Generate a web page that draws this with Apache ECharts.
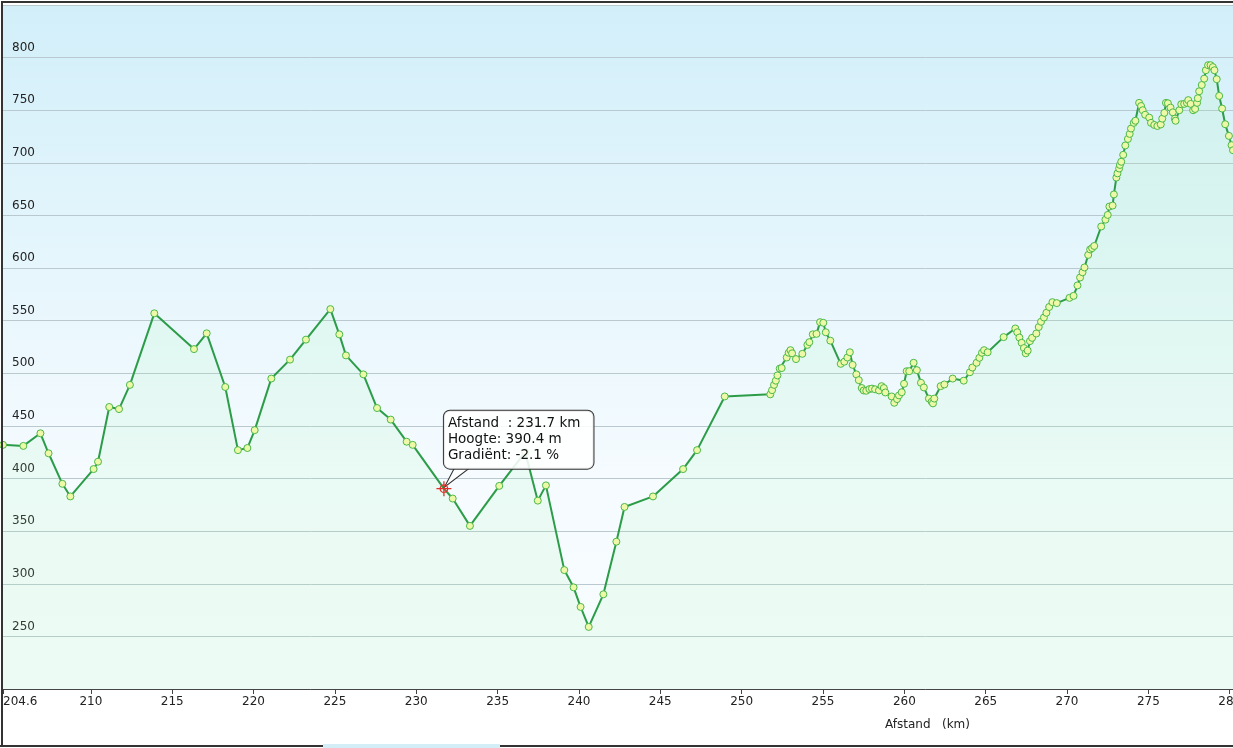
<!DOCTYPE html>
<html>
<head>
<meta charset="utf-8">
<script src="https://cdn.jsdelivr.net/npm/echarts@6/dist/echarts.min.js"></script>
<style>
  html, body { margin: 0; padding: 0; background: #fff; overflow: hidden; }
  #chart { width: 1233px; height: 748px; }
</style>
</head>
<body>
<div id="chart"></div>
<script>
// hoogteprofiel: afstand (km) en hoogte (m)
var afstand = [
  204.6, 205.85, 206.9, 207.4, 208.25, 208.74, 210.17, 210.44, 211.13, 211.73,
  212.4, 213.9, 216.34, 217.12, 218.26, 219.04, 219.62, 220.07, 221.09, 222.24,
  223.22, 224.72, 225.27, 225.68, 226.75, 227.59, 228.43, 229.41, 229.78, 231.7,
  232.24, 233.3, 235.1, 236.7, 237.47, 237.97, 239.1, 239.67, 240.1, 240.6,
  241.5, 242.3, 242.8, 244.55, 246.4, 247.26, 248.96, 251.76, 251.87, 251.99,
  252.1, 252.2, 252.34, 252.46, 252.77, 252.89, 253.0, 253.1, 253.34, 253.73,
  254.04, 254.16, 254.37, 254.6, 254.82, 255.02, 255.17, 255.45, 256.09, 256.31,
  256.5, 256.65, 256.82, 257.05, 257.2, 257.38, 257.5, 257.66, 257.85, 258.01,
  258.2, 258.44, 258.6, 258.74, 258.83, 259.22, 259.38, 259.55, 259.67, 259.84,
  259.98, 260.14, 260.3, 260.57, 260.77, 261.02, 261.2, 261.51, 261.68, 261.76,
  261.84, 262.23, 262.46, 262.97, 263.65, 264.03, 264.18, 264.44, 264.61, 264.77,
  264.9, 265.12, 266.1, 266.82, 266.94, 267.07, 267.21, 267.35, 267.46, 267.58,
  267.72, 267.85, 268.11, 268.26, 268.4, 268.58, 268.73, 268.9, 269.1, 269.37,
  270.15, 270.4, 270.64, 270.8, 270.95, 271.07, 271.3, 271.42, 271.54, 271.67,
  272.1, 272.36, 272.5, 272.6, 272.8, 272.88, 273.03, 273.1, 273.2, 273.25,
  273.33, 273.45, 273.58, 273.74, 273.85, 273.93, 274.1, 274.2, 274.43, 274.55,
  274.65, 274.8, 275.05, 275.16, 275.36, 275.55, 275.76, 275.85, 275.98, 276.08,
  276.2, 276.36, 276.5, 276.63, 276.67, 276.9, 277.02, 277.2, 277.37, 277.45,
  277.6, 277.75, 277.87, 277.99, 278.04, 278.12, 278.28, 278.43, 278.53, 278.67,
  278.82, 278.96, 279.06, 279.2, 279.35, 279.53, 279.72, 279.95, 280.11, 280.2
];
var hoogte = [
  432, 431, 443, 424, 395, 383, 409, 416, 468, 466,
  489, 557, 523, 538, 487, 427, 429, 446, 495, 513,
  532, 561, 537, 517, 499, 467, 456, 435, 432, 390.4,
  381, 355, 393, 425, 379, 393.5, 313, 296.6, 278, 259,
  290, 340, 373, 383, 409, 427, 478, 480, 484, 489,
  493, 498, 504.5, 505, 515, 519.5, 522, 519, 513.5, 518.5,
  527, 529.6, 537, 537.5, 548.6, 548, 539, 531, 509, 511,
  515, 520, 508, 499, 493.5, 486, 483.7, 483.4, 485, 485.5,
  484.8, 483.7, 487.8, 486, 481.8, 478, 472, 475.5, 479, 482,
  490, 502, 502, 510, 503, 491, 486.6, 476, 473, 471.4,
  476, 487.8, 489.4, 495, 493, 501, 505.5, 510, 514.7, 519.5,
  522, 520, 534.4, 542.6, 539, 534, 529, 524, 519, 521.6,
  530.6, 533.7, 537.8, 544, 549, 553, 557.5, 563, 567.6, 566.7,
  571.7, 573.6, 583.5, 591, 596, 600.6, 612.5, 617.7, 619, 621,
  639.5, 646, 650.5, 658.5, 659.4, 670, 686, 690, 694.6, 698,
  701, 707.6, 716.5, 722.7, 727.5, 732.6, 738, 740, 757, 754,
  750, 745.7, 743, 738, 736, 735, 736.5, 742, 747.5, 757,
  756.6, 752.5, 748, 742, 740, 750, 755.7, 756, 757, 759.6,
  756, 750, 751.2, 757, 761.4, 768, 774, 780, 788, 792.8,
  792.8, 791, 788, 779.5, 763.6, 751.6, 736.7, 725.6, 716.8, 712
];
var xTicks = [204.6, 210, 215, 220, 225, 230, 235, 240, 245, 250, 255, 260, 265, 270, 275, 280];

// geselecteerd punt (tooltip)
var selAfstand = 231.7;
var selHoogte = 390.4;
var selGradient = -2.1;

var data = afstand.map(function (d, i) {
  if (d === selAfstand) {
    return { value: [d, hoogte[i]], symbolSize: 0 };
  }
  return [d, hoogte[i]];
});

var font = 'DejaVu Sans, Verdana, sans-serif';
var myChart = echarts.init(document.getElementById('chart'));

var option = {
  animation: false,
  backgroundColor: '#ffffff',
  grid: {
    left: 3,
    right: 0,
    top: 5,
    bottom: 59,
    containLabel: false,
    outerBoundsMode: 'none',
    show: true,
    borderWidth: 0,
    backgroundColor: new echarts.graphic.LinearGradient(0, 0, 0, 1, [
      { offset: 0, color: '#d2eff9' },
      { offset: 0.68, color: '#f5fbff' },
      { offset: 1, color: '#f7fcfe' }
    ])
  },
  xAxis: {
    type: 'value',
    min: 204.6,
    max: 280.2,
    axisLine: { show: true, lineStyle: { color: '#444', width: 1 } },
    axisTick: { show: true, length: 5, lineStyle: { color: '#444' }, customValues: xTicks },
    splitLine: { show: false },
    axisLabel: {
      customValues: xTicks,
      alignMinLabel: 'left',
      hideOverlap: false,
      margin: 7,
      color: '#222',
      fontFamily: font,
      fontSize: 12,
      formatter: function (v) { return String(v); }
    }
  },
  yAxis: {
    type: 'value',
    min: 200,
    max: 850,
    interval: 50,
    axisLine: { show: false },
    axisTick: { show: false },
    splitLine: { show: true, lineStyle: { color: '#b9c9cf', width: 1 } },
    axisLabel: {
      inside: true,
      showMinLabel: false,
      showMaxLabel: false,
      margin: 9,
      verticalAlign: 'bottom',
      padding: [0, 0, 4, 0],
      color: '#222',
      fontFamily: font,
      fontSize: 12
    }
  },
  graphic: [
    // kader
    { type: 'rect', left: 1, top: 1, shape: { width: 2, height: 746 }, style: { fill: '#333' }, z: 100 },
    { type: 'rect', left: 1, top: 1, shape: { width: 1232, height: 2 }, style: { fill: '#333' }, z: 100 },
    { type: 'rect', left: 0, top: 745, shape: { width: 323, height: 2 }, style: { fill: '#333' }, z: 100 },
    { type: 'rect', left: 500, top: 745, shape: { width: 733, height: 2 }, style: { fill: '#333' }, z: 100 },
    { type: 'rect', left: 323, top: 744, shape: { width: 177, height: 4 }, style: { fill: '#d4eef8' }, z: 100 },
    {
      type: 'text', left: 885, top: 719, z: 100,
      style: { text: 'Afstand   (km)', fill: '#222', font: '12px ' + font }
    }
  ],
  series: [{
    name: 'Hoogte',
    type: 'line',
    data: data,
    symbol: 'circle',
    symbolSize: 7,
    showAllSymbol: true,
    lineStyle: { color: '#2b9c47', width: 2 },
    itemStyle: { color: '#eef9a8', borderColor: '#4cb84a', borderWidth: 1 },
    areaStyle: { color: 'rgba(160,248,170,0.18)' },
    markPoint: {
      silent: true,
      data: [
        {
          coord: [selAfstand, selHoogte],
          symbol: 'path://M11,0 L1,19 L26,0',
          symbolSize: [25, 19],
          symbolOffset: [13, -11],
          symbolKeepAspect: false,
          itemStyle: { color: 'rgba(255,255,255,0.88)', borderColor: '#333', borderWidth: 1 },
          label: { show: false }
        },
        {
          coord: [selAfstand, selHoogte],
          symbol: 'path://M12,4 L12,20 M4,12 L20,12 M16,12 A4,4 0 1,1 8,12 A4,4 0 1,1 16,12',
          symbolSize: 15,
          itemStyle: { color: 'rgba(0,0,0,0)', borderColor: '#e0302a', borderWidth: 1.3 },
          label: { show: false }
        },
        {
          coord: [selAfstand, selHoogte],
          symbol: 'circle',
          symbolSize: 0,
          label: {
            show: true,
            position: 'top',
            distance: 20,
            align: 'left',
            verticalAlign: 'bottom',
            formatter: 'Afstand  : ' + selAfstand.toFixed(1) + ' km\nHoogte: ' + selHoogte.toFixed(1) +
              ' m\nGradiënt: ' + selGradient.toFixed(1) + ' %',
            color: '#111',
            fontFamily: font,
            fontSize: 13.5,
            lineHeight: 16,
            backgroundColor: 'rgba(255,255,255,0.88)',
            borderColor: '#333',
            borderWidth: 1,
            borderRadius: 6,
            padding: [5, 13, 5, 4]
          }
        }
      ]
    }
  }]
};
myChart.setOption(option);
</script>
</body>
</html>
